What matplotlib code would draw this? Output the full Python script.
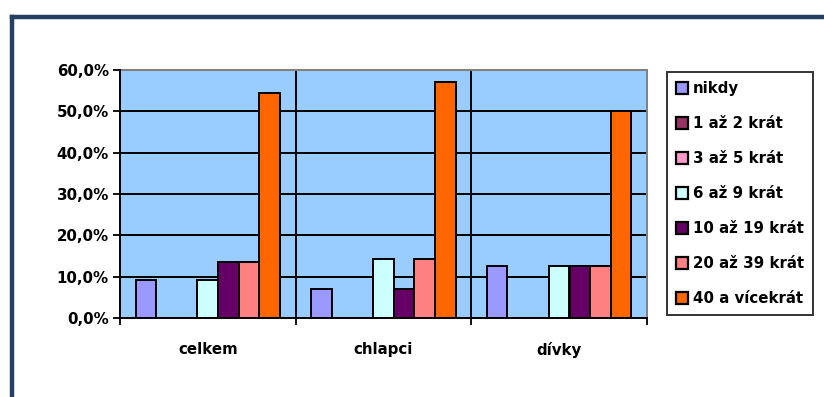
import numpy as np
from matplotlib import pyplot as plt
from matplotlib.ticker import FuncFormatter

plt.rcParams['font.family'] = ['DejaVu Sans']
plt.rcParams['font.weight'] = 'bold'

groups = ['celkem', 'chlapci', 'dívky']
series = ['nikdy', '1 až 2 krát', '3 až 5 krát', '6 až 9 krát',
          '10 až 19 krát', '20 až 39 krát', '40 a vícekrát']
colors = ['#9999FF', '#993366', '#FF99CC', '#CCFFFF', '#660066', '#FF8080', '#FF6600']

# procenta pro kazdou skupinu (celkem, chlapci, divky)
nikdy = [9.1, 7.1, 12.5]
x1_2 = [0.0, 0.0, 0.0]
x3_5 = [0.0, 0.0, 0.0]
x6_9 = [9.1, 14.3, 12.5]
x10_19 = [13.6, 7.1, 12.5]
x20_39 = [13.6, 14.3, 12.5]
x40 = [54.5, 57.1, 50.0]
values = [nikdy, x1_2, x3_5, x6_9, x10_19, x20_39, x40]

W, H = 824, 397
fig = plt.figure(figsize=(W / 100, H / 100), dpi=100)

# ramecek okolo grafu
border = '#243F60'
fig.add_artist(plt.Line2D([12 / W, 12 / W], [0, 1 - 17 / H], color=border, lw=3.2,
                          transform=fig.transFigure, solid_capstyle='projecting'))
fig.add_artist(plt.Line2D([12 / W, 1], [1 - 17 / H, 1 - 17 / H], color=border, lw=3.2,
                          transform=fig.transFigure, solid_capstyle='projecting'))

ax = fig.add_axes([120 / W, 1 - 318 / H, (647 - 120) / W, (318 - 70) / H])
ax.set_facecolor('#99CCFF')

w = 1 / 8.5
x = np.arange(len(groups))
for i, (vals, c, lab) in enumerate(zip(values, colors, series)):
    ax.bar(x + (i - 3) * w, vals, width=w, color=c, edgecolor='black', linewidth=1.4,
           label=lab, zorder=3)

ax.set_xlim(-0.5, 2.5)
ax.set_ylim(0, 60)
ax.set_yticks(np.arange(0, 61, 10))
ax.yaxis.set_major_formatter(FuncFormatter(lambda v, p: f'{v:.1f}%'.replace('.', ',')))
ax.grid(axis='y', color='black', lw=1.4, zorder=1)

ax.set_xticks([-0.5, 0.5, 1.5, 2.5])
ax.set_xticklabels([])
ax.set_xticks(x, minor=True)
ax.set_xticklabels(groups, minor=True, fontsize=10.8, fontweight='bold')
ax.tick_params(axis='x', which='minor', length=0, pad=17)
ax.tick_params(axis='x', which='major', length=5, width=1.3, direction='out')
ax.tick_params(axis='y', length=5, width=1.3, labelsize=10.8, pad=3)
for xv in [0.5, 1.5]:
    ax.axvline(xv, color='black', lw=1.4, zorder=1)

for s in ['left', 'bottom']:
    ax.spines[s].set_linewidth(1.4)
    ax.spines[s].set_zorder(4)
for s in ['top', 'right']:
    ax.spines[s].set_color('#808080')
    ax.spines[s].set_linewidth(1.4)

leg = fig.legend(loc='upper left', bbox_to_anchor=(667 / W, 1 - 313 / H, (813 - 667) / W, (313 - 72) / H),
                 mode='expand', frameon=True, fancybox=False, edgecolor='black',
                 fontsize=10.8, handlelength=0.8, handleheight=0.8, handletextpad=0.33,
                 labelspacing=1.33, borderpad=0.62, borderaxespad=0)
leg.get_frame().set_linewidth(1.4)
for t in leg.get_texts():
    t.set_fontweight('bold')
for h in leg.legend_handles:
    h.set_linewidth(1.6)

fig.savefig('out.png', dpi=100)
